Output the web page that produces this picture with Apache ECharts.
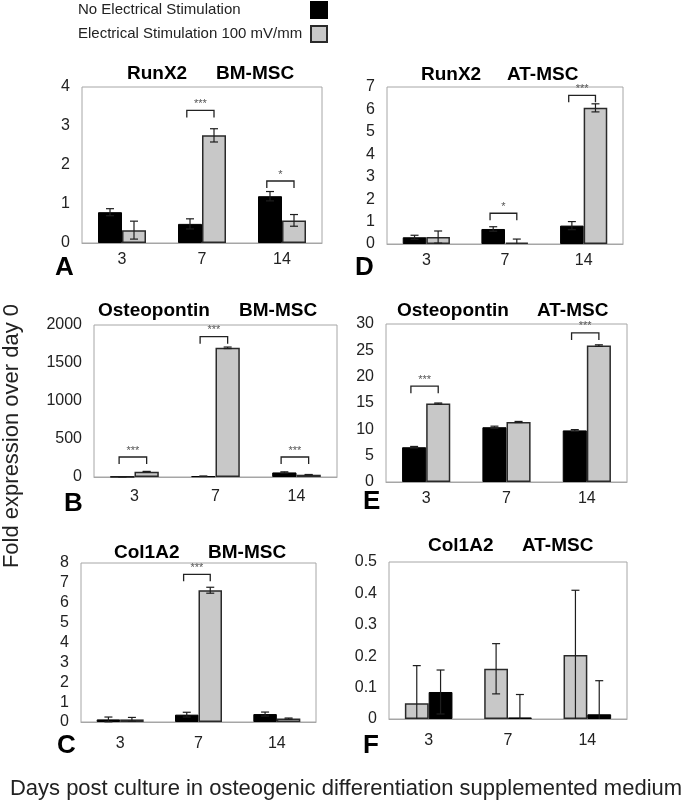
<!DOCTYPE html>
<html><head><meta charset="utf-8">
<script src="https://cdn.jsdelivr.net/npm/echarts@6/dist/echarts.min.js"></script>
<style>html,body{margin:0;padding:0;background:#fff}#c{width:686px;height:804px}</style>
</head><body><div id="c"></div>
<script>
const days = ['3', '7', '14'];
const nameNo = 'No Electrical Stimulation';
const nameES = 'Electrical Stimulation 100 mV/mm';

// A: RunX2 BM-MSC
const runx2BM_no = [0.79, 0.49, 1.20];
const runx2BM_noErr = [0.09, 0.13, 0.12];
const runx2BM_es = [0.33, 2.76, 0.58];
const runx2BM_esErr = [0.23, 0.17, 0.15];
const runx2BM_sig = [[1, 3.40, '***'], [2, 1.59, '*']];
const runx2BM_ticks = [0, 4, 1];

// D: RunX2 AT-MSC
const runx2AT_no = [0.30, 0.67, 0.82];
const runx2AT_noErr = [0.09, 0.10, 0.18];
const runx2AT_es = [0.31, 0.06, 6.07];
const runx2AT_esErr = [0.27, 0.16, 0.18];
const runx2AT_sig = [[1, 1.37, '*'], [2, 6.63, '***']];
const runx2AT_ticks = [0, 7, 1];

// B: Osteopontin BM-MSC
const opnBM_no = [3, 10, 60];
const opnBM_noErr = [1, 3, 8];
const opnBM_es = [70, 1700, 30];
const opnBM_esErr = [4, 10, 3];
const opnBM_sig = [[0, 263, '***'], [1, 1847, '***'], [2, 263, '***']];
const opnBM_ticks = [0, 2000, 500];

// E: Osteopontin AT-MSC
const opnAT_no = [6.6, 10.4, 9.8];
const opnAT_noErr = [0.15, 0.2, 0.15];
const opnAT_es = [14.9, 11.4, 25.9];
const opnAT_esErr = [0.1, 0.1, 0.15];
const opnAT_sig = [[0, 18.2, '***'], [2, 28.3, '***']];
const opnAT_ticks = [0, 30, 5];

// C: Col1A2 BM-MSC
const colBM_no = [0.13, 0.37, 0.40];
const colBM_noErr = [0.12, 0.12, 0.10];
const colBM_es = [0.13, 6.63, 0.17];
const colBM_esErr = [0.10, 0.15, 0.03];
const colBM_sig = [[1, 7.43, '***']];
const colBM_ticks = [0, 8, 1];

// F: Col1A2 AT-MSC (stimulated bars drawn first in the original)
const colAT_es = [0.05, 0.16, 0.204];
const colAT_esErr = [0.12, 0.08, 0.206];
const colAT_no = [0.086, 0.005, 0.015];
const colAT_noErr = [0.07, 0.073, 0.107];
const colAT_sig = [];
const colAT_ticks = [0, 0.5, 0.1];

const FONT = '"Liberation Sans", Arial, sans-serif';
const BLACK = '#000000', GRAY = '#c8c8c8', EDGE = '#2a2a2a', FRAME = '#a6a6a6';

const panels = [
  {letter: 'A', gene: 'RunX2', cell: 'BM-MSC', grid: {left: 82, top: 87, width: 240, height: 156},
   geneX: 127, cellX: 216, titleY: 74, letterX: 55, letterY: 268, labelMargin: 9,
   ticks: runx2BM_ticks, sig: runx2BM_sig,
   bars: [[nameNo, runx2BM_no, runx2BM_noErr], [nameES, runx2BM_es, runx2BM_esErr]]},
  {letter: 'D', gene: 'RunX2', cell: 'AT-MSC', grid: {left: 387, top: 87, width: 236, height: 157},
   geneX: 421, cellX: 507, titleY: 75, letterX: 355, letterY: 268, labelMargin: 9,
   ticks: runx2AT_ticks, sig: runx2AT_sig,
   bars: [[nameNo, runx2AT_no, runx2AT_noErr], [nameES, runx2AT_es, runx2AT_esErr]]},
  {letter: 'B', gene: 'Osteopontin', cell: 'BM-MSC', grid: {left: 94, top: 325, width: 243, height: 152},
   geneX: 98, cellX: 239, titleY: 311, letterX: 64, letterY: 504, labelMargin: 12,
   ticks: opnBM_ticks, sig: opnBM_sig,
   bars: [[nameNo, opnBM_no, opnBM_noErr], [nameES, opnBM_es, opnBM_esErr]]},
  {letter: 'E', gene: 'Osteopontin', cell: 'AT-MSC', grid: {left: 386, top: 324, width: 241, height: 158},
   geneX: 397, cellX: 537, titleY: 311, letterX: 363, letterY: 502, labelMargin: 9,
   ticks: opnAT_ticks, sig: opnAT_sig,
   bars: [[nameNo, opnAT_no, opnAT_noErr], [nameES, opnAT_es, opnAT_esErr]]},
  {letter: 'C', gene: 'Col1A2', cell: 'BM-MSC', grid: {left: 81, top: 563, width: 235, height: 159},
   geneX: 114, cellX: 208, titleY: 553, letterX: 57, letterY: 746, labelMargin: 14,
   ticks: colBM_ticks, sig: colBM_sig,
   bars: [[nameNo, colBM_no, colBM_noErr], [nameES, colBM_es, colBM_esErr]]},
  {letter: 'F', gene: 'Col1A2', cell: 'AT-MSC', grid: {left: 389, top: 562, width: 238, height: 157},
   geneX: 428, cellX: 522, titleY: 546, letterX: 363, letterY: 746, labelMargin: 14,
   ticks: colAT_ticks, sig: colAT_sig,
   bars: [[nameES, colAT_es, colAT_esErr], [nameNo, colAT_no, colAT_noErr]]}
];

function styleFor(name) {
  return name === nameNo
    ? {color: BLACK, borderColor: BLACK, borderWidth: 1}
    : {color: GRAY, borderColor: EDGE, borderWidth: 1.5};
}

function errRender(offset) {
  return function (params, api) {
    const ci = api.value(0), v = api.value(1), e = api.value(2);
    const band = api.size([1, 0])[0];
    const lowV = Math.max(v - e, 0);
    const top = api.coord([ci, v + e]);
    const bot = api.coord([ci, lowV]);
    const x = top[0] + offset * band;
    const cw = 4;
    const st = {stroke: '#1e1e1e', lineWidth: 1.2};
    const ch = [
      {type: 'line', shape: {x1: x, y1: top[1], x2: x, y2: bot[1]}, style: st},
      {type: 'line', shape: {x1: x - cw, y1: top[1], x2: x + cw, y2: top[1]}, style: st}
    ];
    if (v - e > 0) ch.push({type: 'line', shape: {x1: x - cw, y1: bot[1], x2: x + cw, y2: bot[1]}, style: st});
    return {type: 'group', children: ch};
  };
}

function sigRender(sig) {
  return function (params, api) {
    const ci = api.value(0), y = api.value(1);
    const band = api.size([1, 0])[0];
    const p = api.coord([ci, y]);
    const xl = p[0] - 0.19 * band, xr = p[0] + 0.15 * band;
    const st = {stroke: '#222', lineWidth: 1.3, fill: null};
    return {type: 'group', children: [
      {type: 'polyline', shape: {points: [[xl, p[1] + 7], [xl, p[1]], [xr, p[1]], [xr, p[1] + 7]]}, style: st},
      {type: 'text', style: {text: sig[params.dataIndex][2], x: (xl + xr) / 2, y: p[1] - 1,
        align: 'center', verticalAlign: 'bottom', font: '11px ' + FONT, fill: '#555'}}
    ]};
  };
}

const grids = [], xAxes = [], yAxes = [], series = [], graphics = [];
panels.forEach((pn, i) => {
  grids.push(Object.assign({show: true, borderColor: FRAME, borderWidth: 1, backgroundColor: 'transparent'}, pn.grid));
  xAxes.push({type: 'category', gridIndex: i, data: days,
    axisLine: {lineStyle: {color: FRAME}}, axisTick: {show: false},
    axisLabel: {color: '#222', fontSize: 16, fontFamily: FONT, margin: pn.labelMargin}});
  yAxes.push({type: 'value', gridIndex: i, min: pn.ticks[0], max: pn.ticks[1], interval: pn.ticks[2],
    axisLine: {show: false}, axisTick: {show: false}, splitLine: {show: false},
    axisLabel: {color: '#222', fontSize: 16, fontFamily: FONT, margin: 12,
      formatter: v => String(Math.round(v * 1000) / 1000)}});
  pn.bars.forEach((b, k) => {
    series.push({type: 'bar', name: b[0], xAxisIndex: i, yAxisIndex: i, data: b[1],
      barWidth: '30%', barGap: '0%', itemStyle: styleFor(b[0]), z: 2, silent: true});
  });
  pn.bars.forEach((b, k) => {
    series.push({type: 'custom', name: b[0] + ' error', xAxisIndex: i, yAxisIndex: i, z: 4, silent: true,
      data: b[1].map((v, j) => [j, v, b[2][j]]), renderItem: errRender(k === 0 ? -0.15 : 0.15)});
  });
  if (pn.sig.length) {
    series.push({type: 'custom', name: 'sig' + i, xAxisIndex: i, yAxisIndex: i, z: 5, silent: true, clip: false,
      data: pn.sig.map(s => [s[0], s[1]]), renderItem: sigRender(pn.sig)});
  }
  graphics.push({type: 'text', x: pn.geneX, y: pn.titleY,
    style: {text: pn.gene, font: 'bold 19px ' + FONT, fill: '#000', align: 'left', verticalAlign: 'middle'}});
  graphics.push({type: 'text', x: pn.cellX, y: pn.titleY,
    style: {text: pn.cell, font: 'bold 19px ' + FONT, fill: '#000', align: 'left', verticalAlign: 'middle'}});
  graphics.push({type: 'text', x: pn.letterX, y: pn.letterY,
    style: {text: pn.letter, font: 'bold 26px ' + FONT, fill: '#000', align: 'left', verticalAlign: 'middle'}});
});

graphics.push({type: 'text', x: 12, y: 436, rotation: Math.PI / 2,
  style: {text: 'Fold expression over day 0', font: '22px ' + FONT, fill: '#222', align: 'center', verticalAlign: 'middle'}});
graphics.push({type: 'text', x: 346, y: 789,
  style: {text: 'Days post culture in osteogenic differentiation supplemented medium', font: '22px ' + FONT, fill: '#222', align: 'center', verticalAlign: 'middle'}});

const chart = echarts.init(document.getElementById('c'), null, {renderer: 'canvas'});
chart.setOption({
  animation: false,
  backgroundColor: '#fff',
  legend: {orient: 'vertical', left: 78, top: 1, padding: 0, align: 'right', itemWidth: 16, itemHeight: 16, itemGap: 6,
    selectedMode: false, icon: 'rect', data: [nameNo, nameES],
    formatter: n => '{t|' + n + '}',
    textStyle: {color: '#222', fontSize: 15, fontFamily: FONT, rich: {t: {width: 228, align: 'left', fontSize: 15, fontFamily: FONT, color: '#222'}}}},
  grid: grids, xAxis: xAxes, yAxis: yAxes, series: series, graphic: graphics
});
</script></body></html>
